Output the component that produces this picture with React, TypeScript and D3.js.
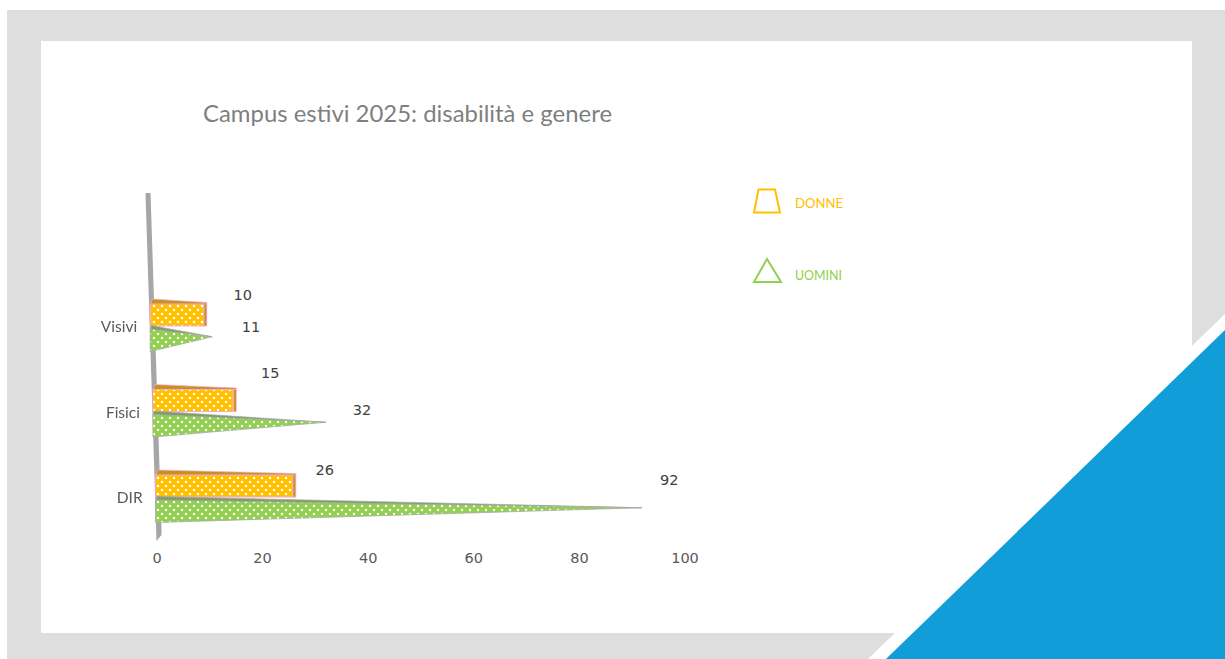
import React from "react";
import * as d3 from "d3";

const categories = ["DIR", "Fisici", "Visivi"];
const donne = [26, 15, 10];
const uomini = [92, 32, 11];
const xTicks = [0, 20, 40, 60, 80, 100];
const title = "Campus estivi 2025: disabilità e genere";
const legendLabels = ["DONNE", "UOMINI"];

// layout only
const W = 1225, H = 659;
const tipShift = [1.5, 0, -3];
const donneLabelOffset = [[29, -16], [34, -27], [36, -20]];
const uominiLabelOffset = [[25, -30], [36, -15], [39, -12]];

const ORANGE = "#ffc000";
const GREEN = "#92d050";
const TEXT = "#595959";
const NUM = '"DejaVu Sans", sans-serif';
const SANS = 'Lato, sans-serif';

export default function App() {
  const x = d3.scaleLinear().domain([0, 100]).range([157, 685]);
  const y = d3.scalePoint<string>().domain(categories).range([497, 326]);
  const axisX = d3.scaleLinear().domain([193, 540]).range([147.5, 158.5]);
  const line = d3.line();

  return (
    <svg width={W} height={H} style={{ position: "absolute", left: 0, top: 0, display: "block" }}>
      <defs>
        <pattern id="dotO" width="8" height="8" patternUnits="userSpaceOnUse">
          <rect width="8" height="8" fill={ORANGE} />
          <circle cx="2" cy="2" r="1.25" fill="#fff" />
          <circle cx="6" cy="6" r="1.25" fill="#fff" />
        </pattern>
        <pattern id="dotG" width="8" height="8" patternUnits="userSpaceOnUse">
          <rect width="8" height="8" fill={GREEN} />
          <circle cx="2" cy="2" r="1.25" fill="#fff" />
          <circle cx="6" cy="6" r="1.25" fill="#fff" />
        </pattern>
        <filter id="soft" x="-5%" y="-5%" width="110%" height="110%">
          <feGaussianBlur stdDeviation="0.4" />
        </filter>
      </defs>

      <rect width={W} height={H} fill="#fff" />
      <rect x={7} y={10} width={W - 7} height={H - 10} fill="#dedede" />
      <rect x={41} y={41} width={1151} height={592} fill="#fff" />
      <path d="M868,659L1225,314V330L886,659Z" fill="#fff" />
      <path d="M886,659L1225,330V659Z" fill="#119ed8" />

      <text x={203} y={122} fontFamily={SANS} fontSize={24} fill="#7f7f7f" textLength={409} lengthAdjust="spacingAndGlyphs">
        {title}
      </text>

      <g filter="url(#soft)">
        {/* skewed category axis */}
        <path
          d={line([
            [axisX(193) - 2, 193],
            [axisX(193) + 3, 193],
            [axisX(540) + 3, 528],
            [axisX(540) + 3, 535],
            [axisX(540) - 2, 541],
          ]) + "Z"}
          fill="#a6a6a6"
        />

        {categories.map((c, i) => {
          const cy = y(c) as number;
          const base = axisX(cy) - 1.5;
          const dx = x(donne[i]) + tipShift[i];
          const ux = x(uomini[i]) + (uomini[i] > 50 ? -1 : tipShift[i]);
          const dTop = cy - 22, dBot = cy;
          const uTop = cy + 1, uBot = cy + 25.5;
          const tipY = (uTop + uBot) / 2 - 2.5;
          return (
            <g key={c}>
              <path
                d={line([[base + 2, dTop - 5], [dx, dTop - 1.5], [dx, dTop + 1], [base, dTop + 1]]) + "Z"}
                fill="#c8921a"
                stroke="#f0b0d0"
                strokeWidth={0.7}
              />
              <rect x={dx - 3} y={dTop} width={3} height={dBot - dTop} fill="#c8921a" stroke="#f0a8d8" strokeWidth={0.8} />
              <rect x={base} y={dTop} width={dx - base - 3} height={dBot - dTop} fill="url(#dotO)" stroke="#f4a8dc" strokeWidth={1} />
              <path d={line([[base + 1, uTop - 1.5], [ux, tipY], [base + 1, uTop + 3]]) + "Z"} fill="#7f9f63" stroke="#a6a6a6" strokeWidth={0.7} />
              <path d={line([[base, uTop + 2], [ux, tipY], [base, uBot]]) + "Z"} fill="url(#dotG)" stroke="#a8a8a8" strokeWidth={0.8} />
              <text x={base - 13} y={cy + 6} textAnchor="end" fontFamily={SANS} fontSize={15.5} fill={TEXT}>
                {c}
              </text>
            </g>
          );
        })}
      </g>

      {categories.map((c, i) => {
        const cy = y(c) as number;
        return (
          <g key={c} fontFamily={NUM} fontSize={14.5} fill="#404040" textAnchor="middle">
            <text x={x(donne[i]) + tipShift[i] + donneLabelOffset[i][0]} y={cy - 11.5 + donneLabelOffset[i][1] + 5}>{donne[i]}</text>
            <text x={x(uomini[i]) + tipShift[i] + uominiLabelOffset[i][0]} y={cy + 13 + uominiLabelOffset[i][1] + 5}>{uomini[i]}</text>
          </g>
        );
      })}

      {xTicks.map((t) => (
        <text key={t} x={x(t)} y={563} textAnchor="middle" fontFamily={NUM} fontSize={14.5} fill={TEXT}>
          {t}
        </text>
      ))}

      <path d="M754,212.5L780,212.5L775,189.5L758.5,189.5Z" fill="none" stroke={ORANGE} strokeWidth={2} />
      <path d="M754,282L781,282L767,259Z" fill="none" stroke={GREEN} strokeWidth={2} />
      <text x={795} y={208} fontFamily={SANS} fontSize={14} fill={ORANGE} textLength={48} lengthAdjust="spacingAndGlyphs">{legendLabels[0]}</text>
      <text x={795} y={280} fontFamily={SANS} fontSize={14} fill={GREEN} textLength={47} lengthAdjust="spacingAndGlyphs">{legendLabels[1]}</text>
    </svg>
  );
}
